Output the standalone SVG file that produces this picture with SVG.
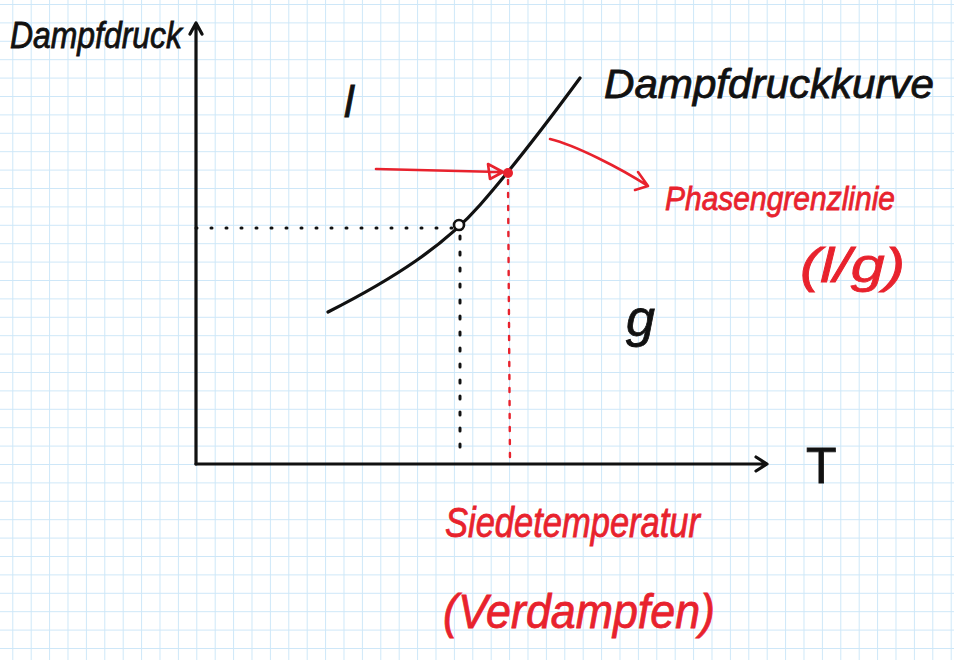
<svg xmlns="http://www.w3.org/2000/svg" width="954" height="660" viewBox="0 0 954 660">
<defs>
<pattern id="grid" x="12.3" y="4" width="18.4" height="18.4" patternUnits="userSpaceOnUse">
<path d="M0,0 H18.4 M0,0 V18.4" fill="none" stroke="#cde7f8" stroke-width="2"/>
</pattern>
<style>
.ink{fill:none;stroke:#111;stroke-width:3.2;stroke-linecap:round;stroke-linejoin:round}
.red{fill:none;stroke:#e8222d;stroke-width:2.6;stroke-linecap:round;stroke-linejoin:round}
.dotk{fill:none;stroke:#111;stroke-width:3;stroke-linecap:round}
.dotr{fill:none;stroke:#e8222d;stroke-width:2.4;stroke-linecap:round}
.hk{font-family:"Liberation Sans","DejaVu Sans",sans-serif;font-style:italic;fill:#111;stroke:#111;stroke-width:0.8}
.hr{font-family:"Liberation Sans","DejaVu Sans",sans-serif;font-style:italic;fill:#e8222d;stroke:#e8222d;stroke-width:0.8}
.up{font-style:normal}
</style>
</defs>
<rect width="954" height="660" fill="#ffffff"/>
<rect width="954" height="660" fill="url(#grid)"/>

<g id="connectors">
<path class="ink" d="M196,464 V23 M190,34 L196,23 L202,34"/>
<path class="ink" d="M196,464 H767 M756,457 L767,464 L756,471"/>
<path class="ink" d="M328,312 C395,278 445,245 480,205 S555,112 580,78"/>
<path class="dotk" d="M196,228 H455" stroke-dasharray="1 14"/>
<path class="dotk" d="M460,236 L460,450" stroke-dasharray="3 13"/>
<path class="dotr" d="M508,180 L510,463" stroke-dasharray="4 9"/>
<path class="red" d="M376,169 C420,170 460,171 500,172 M488,164 L503,172 L490,179 Z"/>
<path class="red" d="M550,139 C575,145 620,168 648,186 M638,172 L648,186 L635,190"/>
</g>

<g id="point-open">
<circle cx="459" cy="225" r="5" fill="#fff" stroke="#111" stroke-width="2.6"/>
</g>
<g id="point-red">
<circle cx="508" cy="173" r="5" fill="#e8222d"/>
</g>

<g id="label-y"><text class="hk" x="10" y="48" font-size="36" textLength="172" lengthAdjust="spacingAndGlyphs">Dampfdruck</text></g>
<g id="label-x"><text class="hk up" x="806" y="483" font-size="50">T</text></g>
<g id="label-curve"><text class="hk" x="604" y="98" font-size="40" textLength="330" lengthAdjust="spacingAndGlyphs">Dampfdruckkurve</text></g>
<g id="label-l"><text class="hk" x="344" y="117" font-size="44">l</text></g>
<g id="label-g"><text class="hk" x="626" y="336" font-size="52">g</text></g>
<g id="label-phase">
<text class="hr" x="665" y="210" font-size="34" textLength="230" lengthAdjust="spacingAndGlyphs">Phasengrenzlinie</text>
<text class="hr" x="800" y="282" font-size="48" textLength="105" lengthAdjust="spacingAndGlyphs">(l/g)</text>
</g>
<g id="label-boil">
<text class="hr" x="445" y="537" font-size="42" textLength="255" lengthAdjust="spacingAndGlyphs">Siedetemperatur</text>
<text class="hr" x="443" y="628" font-size="48" textLength="272" lengthAdjust="spacingAndGlyphs">(Verdampfen)</text>
</g>
</svg>
